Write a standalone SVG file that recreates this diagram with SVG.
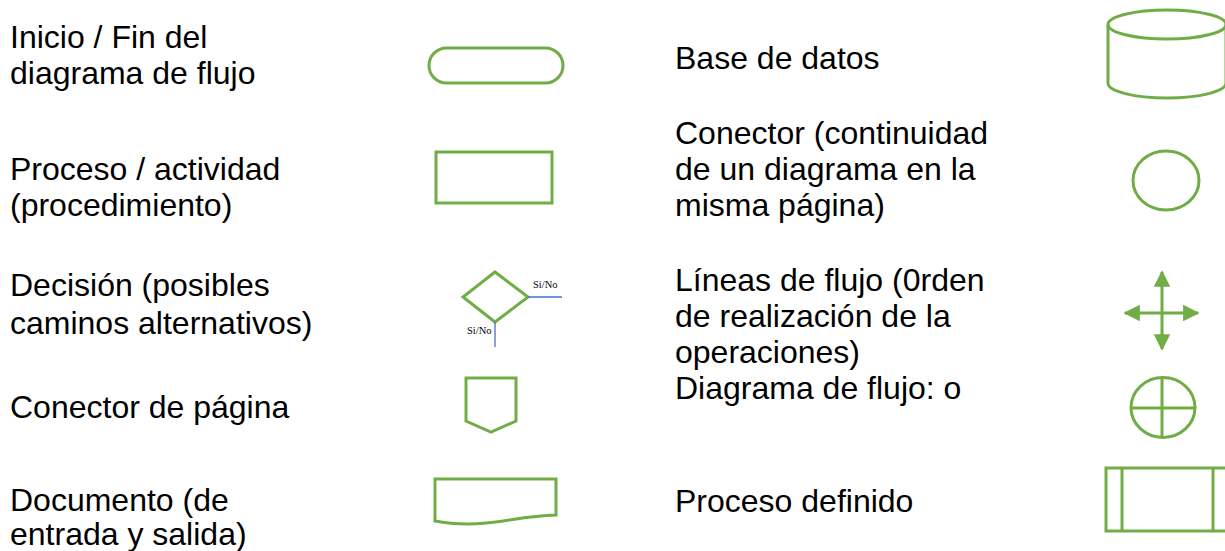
<svg xmlns="http://www.w3.org/2000/svg" width="1225" height="551" viewBox="0 0 1225 551">
<style>
.t{font-family:"Liberation Sans",Arial,sans-serif;font-size:32px;fill:#000}
.s{fill:none;stroke:#70AD47;stroke-width:3}
.b{fill:none;stroke:#4472C4;stroke-width:1.3}
.sm{font-family:"Liberation Serif","Times New Roman",serif;font-size:10.5px;fill:#000}
</style>
<defs>
<marker id="ah" viewBox="0 0 10 10" refX="9" refY="5" markerWidth="5.5" markerHeight="5.5" orient="auto" markerUnits="strokeWidth">
<path d="M0,0 L10,5 L0,10 Z" fill="#70AD47"/>
</marker>
</defs>
<rect width="1225" height="551" fill="#fff"/>
<g id="labels-left">
<text class="t" x="10" y="48">Inicio / Fin del</text>
<text class="t" x="10" y="84">diagrama de flujo</text>
<text class="t" x="10" y="180">Proceso / actividad</text>
<text class="t" x="10" y="216">(procedimiento)</text>
<text class="t" x="10" y="296">Decisión (posibles</text>
<text class="t" x="10" y="334">caminos alternativos)</text>
<text class="t" x="10" y="418">Conector de página</text>
<text class="t" x="10" y="511">Documento (de</text>
<text class="t" x="10" y="545">entrada y salida)</text>
</g>
<g id="labels-right">
<text class="t" x="675" y="69">Base de datos</text>
<text class="t" x="675" y="144">Conector (continuidad</text>
<text class="t" x="675" y="180">de un diagrama en la</text>
<text class="t" x="675" y="216">misma página)</text>
<text class="t" x="675" y="291">Líneas de flujo (0rden</text>
<text class="t" x="675" y="327">de realización de la</text>
<text class="t" x="675" y="363">operaciones)</text>
<text class="t" x="675" y="399">Diagrama de flujo: o</text>
<text class="t" x="675" y="512">Proceso definido</text>
</g>
<g id="terminator"><rect class="s" x="429" y="48" width="134" height="35" rx="17.5"/></g>
<g id="process"><rect class="s" x="436" y="152" width="116" height="51"/></g>
<g id="decision">
<path class="s" d="M495,272 L528,297 L495,322 L463,297 Z"/>
<line class="b" x1="528" y1="297" x2="562" y2="297"/>
<line class="b" x1="495" y1="322" x2="495" y2="347"/>
<text class="sm" x="533" y="288">Si/No</text>
<text class="sm" x="467" y="334">Si/No</text>
</g>
<g id="page-connector"><path class="s" d="M466,378 H516 V421 L491,432 L466,421 Z"/></g>
<g id="document"><path class="s" d="M435,479 H556 V515 C520,516 500,524 468,524 C455,524 445,523 435,521 Z"/></g>
<g id="database">
<path class="s" d="M1108,24.5 V83 A59,15 0 0 0 1226,83 V24.5"/>
<ellipse class="s" cx="1167" cy="24.5" rx="59" ry="14.5"/>
</g>
<g id="connector"><ellipse class="s" cx="1166" cy="180.5" rx="33" ry="29.5"/></g>
<g id="flow-lines">
<line class="s" x1="1162" y1="313" x2="1162" y2="272" marker-end="url(#ah)"/>
<line class="s" x1="1162" y1="313" x2="1162" y2="349" marker-end="url(#ah)"/>
<line class="s" x1="1162" y1="313" x2="1125" y2="313" marker-end="url(#ah)"/>
<line class="s" x1="1162" y1="313" x2="1198" y2="313" marker-end="url(#ah)"/>
</g>
<g id="summing-junction">
<ellipse class="s" cx="1163" cy="407.5" rx="32" ry="30"/>
<line class="s" x1="1131" y1="408" x2="1195" y2="408"/>
<line class="s" x1="1162" y1="377.5" x2="1162" y2="437.5"/>
</g>
<g id="predefined-process">
<rect class="s" x="1106" y="468" width="122" height="63"/>
<line class="s" x1="1122" y1="468" x2="1122" y2="531"/>
<line class="s" x1="1213" y1="468" x2="1213" y2="531"/>
</g>
</svg>
